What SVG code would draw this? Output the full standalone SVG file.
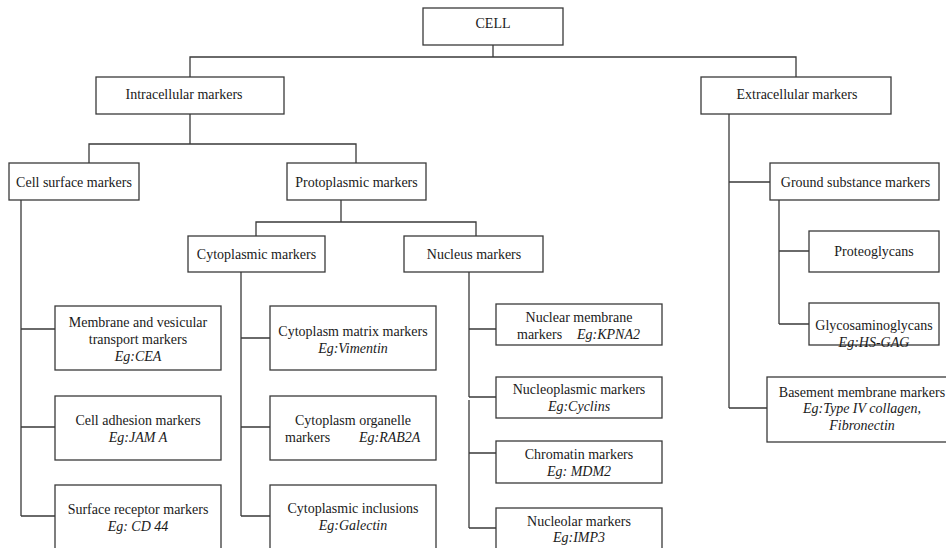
<svg xmlns="http://www.w3.org/2000/svg" width="946" height="548" viewBox="0 0 946 548">
<style>
.box{fill:#fff;stroke:#3a3a3a;stroke-width:1.3}
.ln{fill:none;stroke:#3a3a3a;stroke-width:1.3}
text{font-family:"Liberation Serif","Times New Roman",serif;font-size:14px;fill:#1a1a1a}
.c{text-anchor:middle}
.i{font-style:italic}
</style>
<rect width="946" height="548" fill="#fff"/>
<g id="connectors">
<path class="ln" d="M493 45V57M190 77V57H796V77"/>
<path class="ln" d="M190 114V144M89 163V144H356V163"/>
<path class="ln" d="M21 200V516M21 329H55M21 427H55M21 516H55"/>
<path class="ln" d="M341 200V222M256 236V222H476V236"/>
<path class="ln" d="M241 272V516M241 338H270M241 427H270M241 516H270"/>
<path class="ln" d="M469 272V397M469 400V528M469 329H496M469 397H496M469 453H496M469 528H496"/>
<path class="ln" d="M729 114V408M729 182H770M729 408H767"/>
<path class="ln" d="M779 200V324M779 251H809M779 324H809"/>
</g>
<g id="cell"><rect class="box" x="423" y="8" width="140" height="37"/><text class="c" x="493" y="28">CELL</text></g>
<g id="intracellular"><rect class="box" x="96" y="77" width="188" height="37"/><text class="c" x="184" y="99">Intracellular markers</text></g>
<g id="extracellular"><rect class="box" x="701" y="77" width="190" height="37"/><text class="c" x="797" y="99">Extracellular markers</text></g>
<g id="cell-surface"><rect class="box" x="9" y="163" width="130" height="37"/><text class="c" x="74" y="187">Cell surface markers</text></g>
<g id="protoplasmic"><rect class="box" x="287" y="163" width="139" height="37"/><text class="c" x="356.5" y="187">Protoplasmic markers</text></g>
<g id="ground-substance"><rect class="box" x="770" y="163" width="169" height="37"/><text class="c" x="855.5" y="187">Ground substance markers</text></g>
<g id="cytoplasmic"><rect class="box" x="188" y="236" width="137" height="36"/><text class="c" x="256.5" y="259">Cytoplasmic markers</text></g>
<g id="nucleus"><rect class="box" x="404" y="236" width="139" height="36"/><text class="c" x="474" y="259">Nucleus markers</text></g>
<g id="membrane-vesicular"><rect class="box" x="55" y="306" width="166" height="64"/><text class="c" x="138" y="327">Membrane and vesicular</text><text class="c" x="138" y="344">transport markers</text><text class="c i" x="138" y="361">Eg:CEA</text></g>
<g id="cell-adhesion"><rect class="box" x="55" y="396" width="166" height="64"/><text class="c" x="138" y="425">Cell adhesion markers</text><text class="c i" x="138" y="442">Eg:JAM A</text></g>
<g id="surface-receptor"><rect class="box" x="55" y="485" width="166" height="70"/><text class="c" x="138" y="514">Surface receptor markers</text><text class="c i" x="138" y="531">Eg: CD 44</text></g>
<g id="cytoplasm-matrix"><rect class="box" x="270" y="306" width="166" height="64"/><text class="c" x="353" y="336">Cytoplasm matrix markers</text><text class="c i" x="353" y="353">Eg:Vimentin</text></g>
<g id="cytoplasm-organelle"><rect class="box" x="270" y="396" width="166" height="64"/><text class="c" x="353" y="425">Cytoplasm organelle</text><text x="285" y="442">markers</text><text class="i" x="359" y="442">Eg:RAB2A</text></g>
<g id="cytoplasmic-inclusions"><rect class="box" x="270" y="485" width="166" height="70"/><text class="c" x="353" y="513">Cytoplasmic inclusions</text><text class="c i" x="353" y="530">Eg:Galectin</text></g>
<g id="nuclear-membrane"><rect class="box" x="496" y="304" width="166" height="41"/><text class="c" x="579" y="322">Nuclear membrane</text><text x="517" y="339">markers</text><text class="i" x="577" y="339">Eg:KPNA2</text></g>
<g id="nucleoplasmic"><rect class="box" x="496" y="377" width="166" height="41"/><text class="c" x="579" y="394">Nucleoplasmic markers</text><text class="c i" x="579" y="411">Eg:Cyclins</text></g>
<g id="chromatin"><rect class="box" x="496" y="441" width="166" height="42"/><text class="c" x="579" y="459">Chromatin markers</text><text class="c i" x="579" y="476">Eg: MDM2</text></g>
<g id="nucleolar"><rect class="box" x="496" y="508" width="166" height="50"/><text class="c" x="579" y="526">Nucleolar markers</text><text class="c i" x="579" y="542">Eg:IMP3</text></g>
<g id="proteoglycans"><rect class="box" x="809" y="231" width="130" height="41"/><text class="c" x="874" y="256">Proteoglycans</text></g>
<g id="glycosaminoglycans"><rect class="box" x="809" y="303" width="130" height="42"/><text class="c" x="874" y="330">Glycosaminoglycans</text><text class="c i" x="874" y="347">Eg:HS-GAG</text></g>
<g id="basement-membrane"><rect class="box" x="767" y="377" width="192" height="65"/><text class="c" x="862" y="397">Basement membrane markers</text><text class="c i" x="862" y="413">Eg:Type IV collagen,</text><text class="c i" x="862" y="430">Fibronectin</text></g>
</svg>
